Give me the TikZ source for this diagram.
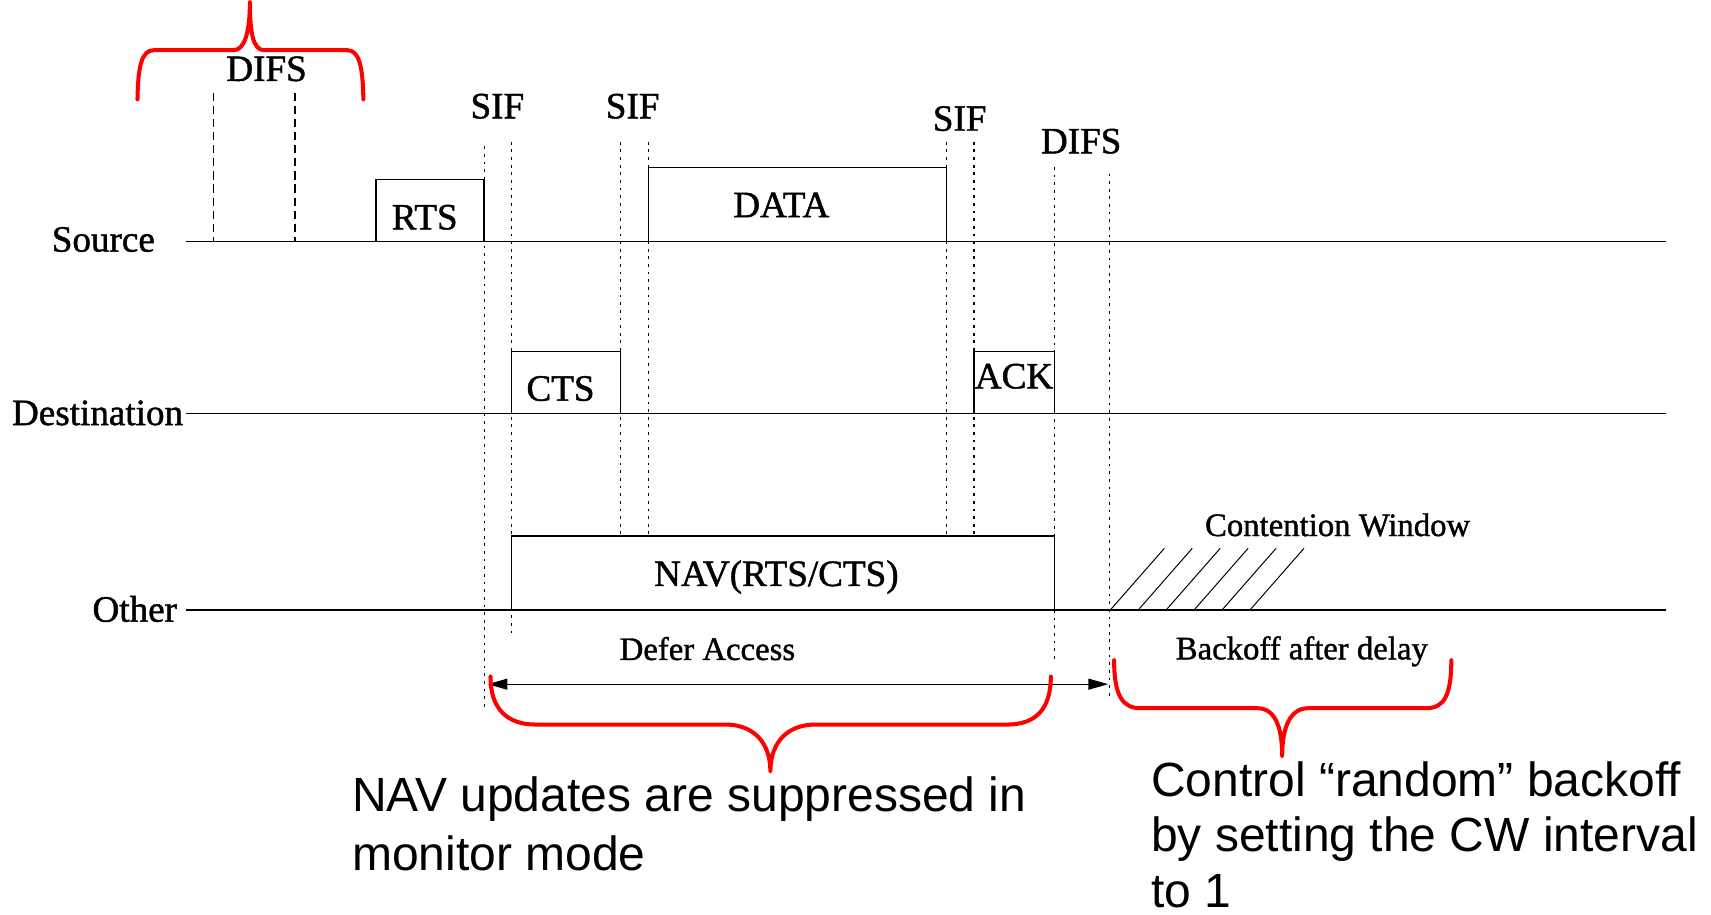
\documentclass[tikz,border=0pt]{standalone}
\usepackage{fontspec}
\setmainfont{Liberation Serif}
\newfontfamily\labelfont[FakeBold=1.2]{Liberation Serif}
\newfontfamily\notefont{Liberation Sans}
\usetikzlibrary{arrows.meta}

\tikzset{
  biglbl/.style={font=\labelfont\fontsize{34}{40}\selectfont, inner sep=0pt, anchor=base},
  smalllbl/.style={font=\labelfont\fontsize{30}{36}\selectfont, inner sep=0pt, anchor=base},
  notetext/.style={font=\notefont\fontsize{44}{52}\selectfont, inner sep=0pt, anchor=base west},
  pkt/.style={draw, line width=1.2pt, inner sep=0pt, outer sep=0pt, anchor=south west},
  timeline/.style={line width=1.2pt},
  sifline/.style={line width=1pt, dash pattern=on 2.5pt off 4.5pt},
  difsline/.style={line width=1pt, dash pattern=on 7.5pt off 4.5pt},
  hatch/.style={line width=0.9pt},
  redbrace/.style={red, line width=3.7pt, line cap=round, line join=round},
  deferarrow/.style={line width=1.2pt, {Triangle[length=18pt,width=10pt]}-{Triangle[length=18pt,width=10pt]}},
}

\begin{document}
\begin{tikzpicture}[x=1pt,y=-1pt]
\useasboundingbox (0,0) rectangle (1568,838);

% station labels
\node[biglbl] (src) at (94.7,230.6) {Source};
\node[biglbl] (dst) at (89.4,389.5) {Destination};
\node[biglbl] (oth) at (123.5,569.7) {Other};

% time lines
\coordinate (srcA) at (170,221);   \coordinate (srcB) at (1527,221);
\coordinate (dstA) at (170,379);   \coordinate (dstB) at (1527,379);
\coordinate (othA) at (170,559);   \coordinate (othB) at (1527,559);
\draw[timeline] (srcA) -- (srcB);
\draw[timeline] (dstA) -- (dstB);
\draw[timeline] (othA) -- (othB);

% frames
\node[pkt, minimum width=99pt,   minimum height=56.8pt] (rtsbox)  at (344.5,221) {};
\node[pkt, minimum width=273.5pt,minimum height=67.7pt] (databox) at (594,221) {};
\node[pkt, minimum width=99.5pt, minimum height=56.7pt] (ctsbox)  at (469,379) {};
\node[pkt, minimum width=74pt,   minimum height=56.7pt] (ackbox)  at (892.5,379) {};
\node[pkt, minimum width=497.5pt,minimum height=67.8pt] (navbox)  at (469,559) {};

\node[biglbl] (rts)  at (389.2,210.2) {RTS};
\node[biglbl] (data) at (716,199) {DATA};
\node[biglbl] (cts)  at (513.7,367.2) {CTS};
\node[biglbl] (ack)  at (929.3,355.9) {ACK};
\node[biglbl] (nav)  at (711.5,537) {NAV(RTS/CTS)};

% interframe space marks
\draw[difsline] (195.5,85) -- (195.5,221);
\draw[difsline] (270.3,85) -- (270.3,221);
\draw[sifline] (444.2,134) -- (444.2,649);
\draw[sifline] (469,130) -- (469,582);
\draw[sifline] (568.8,130) -- (568.8,491);
\draw[sifline] (594,130) -- (594,491);
\draw[sifline] (867.6,130) -- (867.6,491);
\draw[sifline] (892.6,130) -- (892.6,491);
\draw[sifline] (966.5,153) -- (966.5,605);
\draw[sifline] (1016.8,159) -- (1016.8,638);

\node[biglbl] (difsA) at (244.3,74.2) {DIFS};
\node[biglbl] (sifA)  at (455.8,108.4) {SIF};
\node[biglbl] (sifB)  at (579.8,108.4) {SIF};
\node[biglbl] (sifC)  at (879.5,119.8) {SIF};
\node[biglbl] (difsB) at (990.8,140.5) {DIFS};

% contention window hatching
\foreach \i in {0,...,5} {
  \draw[hatch] ({1017.5+25.6*\i},559) -- ({1067+25.6*\i},502.5);
}
\node[smalllbl] (cw) at (1225.8,491.2) {Contention Window};

% deferral
\coordinate (deferL) at (447,627);
\coordinate (deferR) at (1015.5,627);
\draw[deferarrow] (deferL) -- (deferR);
\node[smalllbl] (defer)   at (648.3,604.8) {Defer Access};
\node[smalllbl] (backoff) at (1193,604.2) {Backoff after delay};

% red braces
\draw[redbrace] (126,91) .. controls (126.5,60) and (130,46) .. (141,46)
  -- (214,46) .. controls (224,46) and (229,30) .. (229,2)
  .. controls (229,30) and (232,46) .. (242,46)
  -- (318,46) .. controls (329,46) and (332.5,60) .. (333,91);
\draw[redbrace] (449.5,620) .. controls (449.5,650) and (465,664) .. (491,664)
  -- (665,664) .. controls (690,664) and (706,680) .. (706,707)
  .. controls (706,680) and (722,664) .. (747,664)
  -- (923,664) .. controls (949,664) and (963,650) .. (963,620);
\draw[redbrace] (1021,605) .. controls (1021,638) and (1029,649) .. (1045,649)
  -- (1152,649) .. controls (1168,649) and (1175,665) .. (1175,693)
  .. controls (1175,665) and (1183,649) .. (1199,649)
  -- (1307,649) .. controls (1323,649) and (1330,638) .. (1330,605);

% notes
\node[notetext] (navA) at (322.4,743.8) {NAV updates are suppressed in};
\node[notetext] (navB) at (322.4,797.3) {monitor mode};
\node[notetext] (cwA) at (1054.6,730) {Control “random” backoff};
\node[notetext] (cwB) at (1054.6,780.5) {by setting the CW interval};
\node[notetext] (cwC) at (1054.6,831.5) {to 1};
\end{tikzpicture}
\end{document}
